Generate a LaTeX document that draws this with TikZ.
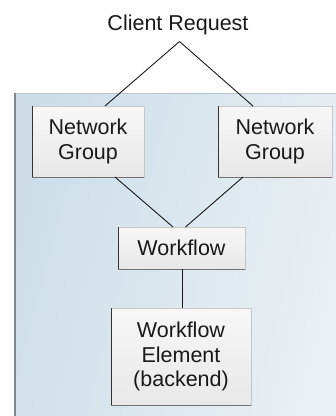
\documentclass[tikz,border=0pt]{standalone}
\usepackage{fontspec}
\setmainfont{Liberation Sans}
\begin{document}
\begin{tikzpicture}[x=1pt,y=-1pt,
  lbl/.style={font=\fontsize{21.5}{24.7}\selectfont, align=center, text=black!90},
  boxnode/.style={lbl, draw=black!22, line width=0.8pt, shading=axis,
    top color=white!97!black, bottom color=black!9, shading angle=0,
    inner sep=0pt, outer sep=0pt},
  conn/.style={line width=0.9pt, black!90},
  thick conn/.style={line width=1.8pt, black!90}
]
\useasboundingbox (0,0) rectangle (336,416);
% panel
\shade[left color={rgb,255:red,205;green,222;blue,233}, right color={rgb,255:red,234;green,240;blue,244}, shading angle=75]
  (14,93) rectangle (336,416);
\draw[line width=0.8pt, color={rgb,255:red,185;green,196;blue,204}] (14,93.4) -- (336,93.4);
\draw[line width=2.4pt, color={rgb,255:red,130;green,135;blue,140}] (15.2,93) -- (15.2,416);

% nodes
\node[lbl, inner sep=0pt] (cr) at (178,25) {Client Request};
\coordinate (apex) at (179.5,41.5);
\node[boxnode, minimum width=112, minimum height=71] (ng1) at (88,141.5) {Network\\Group};
\node[boxnode, minimum width=114, minimum height=71] (ng2) at (275,141.5) {Network\\Group};
\node[boxnode, minimum width=127, minimum height=42] (wf) at (181.5,248) {Workflow};
\node[boxnode, minimum width=140, minimum height=97] (we) at (181,356.5) {Workflow\\Element\\(backend)};

% box darker edges (left and bottom)
\foreach \n in {ng1,ng2,wf,we}{
  \draw[line width=0.9pt, black!80] (\n.north west) -- (\n.south west);
  \draw[line width=1pt, black!55] (\n.south west) -- (\n.south east);
}

% connectors
\draw[conn] (apex) -- ([xshift=17]ng1.north);
\draw[conn] (apex) -- ([xshift=-22]ng2.north);
\draw[conn] ([xshift=27]ng1.south) -- ([xshift=-8.5]wf.north);
\draw[conn] ([xshift=-32]ng2.south) -- ([xshift=4]wf.north);
\draw[thick conn] ([xshift=1]wf.south) -- ([xshift=1.5]we.north);
\end{tikzpicture}
\end{document}
